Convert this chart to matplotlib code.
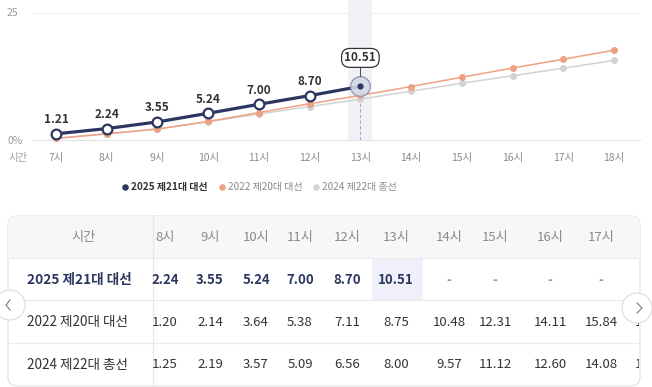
import matplotlib
matplotlib.use("Agg")
import matplotlib.pyplot as plt
from matplotlib.patches import FancyBboxPatch, Rectangle, Circle
from matplotlib.transforms import Bbox, TransformedBbox

plt.rcParams["font.family"] = ["Noto Sans CJK KR", "DejaVu Sans"]

# ── 데이터 ────────────────────────────────────────────────────────────────
hours = [7, 8, 9, 10, 11, 12, 13, 14, 15, 16, 17, 18]
hour_labels = [f"{h}시" for h in hours]
turnout_2025 = [1.21, 2.24, 3.55, 5.24, 7.00, 8.70, 10.51]
turnout_2022 = [0.30, 1.20, 2.14, 3.64, 5.38, 7.11, 8.75, 10.48, 12.31, 14.11, 15.84, 17.60]
turnout_2024 = [0.33, 1.25, 2.19, 3.57, 5.09, 6.56, 8.00, 9.57, 11.12, 12.60, 14.08, 15.60]
series_names = ["2025 제21대 대선", "2022 제20대 대선", "2024 제22대 총선"]

NAVY = "#2b3760"
ORANGE = "#f0a083"
GRAY = "#d2d2d2"
TXT = "#333333"
MUTED = "#8a8a8a"

W, H = 652, 387
fig = plt.figure(figsize=(W / 100, H / 100), dpi=100)
fig.patch.set_facecolor("white")

# 픽셀 좌표용 오버레이
ov = fig.add_axes([0, 0, 1, 1], zorder=0)
ov.set_xlim(0, W)
ov.set_ylim(H, 0)
ov.axis("off")

# ── 차트 영역 (px: x 32~640, y 0~140) ────────────────────────────────────
px_per_h = (614 - 56) / 11
px_per_u = (140 - 12.5) / 25
ax = fig.add_axes([32 / W, (H - 140) / H, (640 - 32) / W, 140 / H], zorder=1)
ax.set_facecolor("none")
ax.set_xlim(7 - 24 / px_per_h, 18 + 26 / px_per_h)
ymax = 25 + 12.5 / px_per_u
ax.set_ylim(0, ymax)
for s in ["top", "right", "left"]:
    ax.spines[s].set_visible(False)
ax.spines["bottom"].set_color("#e2e2e2")
ax.axhline(25, color="#eeeeee", lw=0.8, zorder=0)

ax.set_xticks(hours)
ax.set_xticklabels(hour_labels, fontsize=7.5, color=MUTED)
ax.set_yticks([0, 25])
ax.set_yticklabels(["0%", "25"], fontsize=7.5, color="#9a9a9a")
ax.tick_params(axis="x", length=0, pad=9)
ax.tick_params(axis="y", length=0, pad=18)
for lab in ax.get_yticklabels():
    lab.set_horizontalalignment("left")
ov.text(18, 158, "시간", fontsize=7.5, color="#9a9a9a", ha="center", va="center")

# 13시 강조 밴드 + 점선
cur = hours[len(turnout_2025) - 1]
bw = 24 / px_per_h
ax.add_patch(Rectangle((cur - bw / 2, 0), bw, ymax, color="#f1f1f8", zorder=0, lw=0))
ax.plot([cur, cur], [0, turnout_2025[-1] - 3], ls=(0, (3, 2)), color="#aaaaaa", lw=0.8, zorder=1)

# 2024 / 2022 라인
ax.plot(hours, turnout_2024, color=GRAY, lw=1.1, marker="o", ms=5, mec="none", zorder=2, clip_on=False)
ax.plot(hours, turnout_2022, color=ORANGE, lw=1.1, marker="o", ms=5, mec="none", zorder=3, clip_on=False)

# 2025 라인
h25 = hours[:len(turnout_2025)]
ax.plot(h25, turnout_2025, color=NAVY, lw=2.3, zorder=4, clip_on=False)
ax.plot(h25[:-1], turnout_2025[:-1], ls="none", marker="o", ms=7, mfc="white", mec=NAVY, mew=1.6,
        zorder=5, clip_on=False)
for h, v in zip(h25[:-1], turnout_2025[:-1]):
    ax.text(h, v + 14 / px_per_u, f"{v:.2f}", ha="center", va="center", fontsize=8.5,
            fontweight="bold", color=TXT, zorder=6)

# 현재 시점 마커
ax.scatter([cur], [turnout_2025[-1]], s=200, facecolor="#d5d8e8", edgecolor="#8e94ae", lw=1, alpha=0.9, zorder=6)
ax.scatter([cur], [turnout_2025[-1]], s=12, color=NAVY, zorder=7)
ax.plot([cur, cur], [turnout_2025[-1] + 10 / px_per_u, turnout_2025[-1] + 18 / px_per_u],
        color="#555555", lw=0.8, zorder=6)
ax.text(cur, turnout_2025[-1] + 28.5 / px_per_u, f"{turnout_2025[-1]:.2f}", ha="center", va="center",
        fontsize=8.5, fontweight="bold", color=TXT, zorder=8,
        bbox=dict(boxstyle="round,pad=0.25,rounding_size=0.7", fc="white", ec="#333333", lw=0.9))

# ── 범례 ──────────────────────────────────────────────────────────────────
leg_x = [125, 222, 316]
leg_colors = [NAVY, ORANGE, GRAY]
for i, (x, c, name) in enumerate(zip(leg_x, leg_colors, series_names)):
    ov.scatter([x], [187], s=22, color=c, lw=0)
    ov.text(x + 6, 187, name, fontsize=7.2, va="center", ha="left",
            color=TXT if i == 0 else MUTED, fontweight="bold" if i == 0 else "normal")

# ── 표 ────────────────────────────────────────────────────────────────────
t_left, t_right, t_top, t_bot = 8, 640, 216, 386
box = FancyBboxPatch((t_left, t_top), t_right - t_left, t_bot - t_top,
                     boxstyle="round,pad=0,rounding_size=9", fc="white", ec="#e3e3e3", lw=0.9, zorder=1)
ov.add_patch(box)
hdr = Rectangle((t_left, t_top), t_right - t_left, 258 - t_top, fc="#f6f7f9", ec="none", zorder=1.1)
ov.add_patch(hdr)
hdr.set_clip_path(box)
row_lines = [258, 300, 343]
for y in row_lines:
    ov.plot([t_left, t_right], [y, y], color="#ececec", lw=0.8, zorder=1.2)
ov.plot([153, 153], [t_top, t_bot], color="#e6e6e6", lw=0.8, zorder=1.2)

# 가로 스크롤된 표: 오른쪽 끝 열은 표 테두리에서 잘림
clip = TransformedBbox(Bbox([[t_left, t_top], [t_right - 1, t_bot]]), ov.transData)

col_x = [165, 210, 256, 300, 347, 396, 449, 495, 550, 601, 651]
row_y = [280, 322, 365]
hl = Rectangle((372, 258), 51, 42, fc="#f0f0fa", ec="none", zorder=1.15)
ov.add_patch(hl)

ov.text(84, 237, "시간", fontsize=9.5, color=MUTED, ha="center", va="center", zorder=2)
for x, lab in zip(col_x, hour_labels[1:]):
    t = ov.text(x, 237, lab, fontsize=9.5, color=MUTED, ha="center", va="center", zorder=2)
    t.set_clip_box(clip)
    t.set_clip_on(True)

rows = [turnout_2025, turnout_2022, turnout_2024]
for r, (vals, name, y) in enumerate(zip(rows, series_names, row_y)):
    bold = r == 0
    ov.text(27, y, name, fontsize=9.8, ha="left", va="center", color=NAVY if bold else TXT,
            fontweight="bold" if bold else "normal", zorder=2)
    for i, x in enumerate(col_x):
        idx = i + 1
        if idx < len(vals):
            s, c = f"{vals[idx]:.2f}", (NAVY if bold else TXT)
        else:
            s, c = "-", "#999999"
        t = ov.text(x, y, s, fontsize=9.5, ha="center", va="center", color=c,
                    fontweight="bold" if bold else "normal", zorder=2)
        t.set_clip_box(clip)
        t.set_clip_on(True)

# 좌우 이동 버튼
for cx, cy, pts in [(10, 305, [(10, 300), (6, 305), (10, 310)]),
                    (637, 308, [(637, 303), (642, 308), (637, 313)])]:
    ov.add_patch(Circle((cx, cy), 15, fc="white", ec="#dddddd", lw=0.8, zorder=3))
    ov.plot([p[0] for p in pts], [p[1] for p in pts], color="#888888", lw=0.9, zorder=4)

fig.savefig("out.png", dpi=100, facecolor="white")
